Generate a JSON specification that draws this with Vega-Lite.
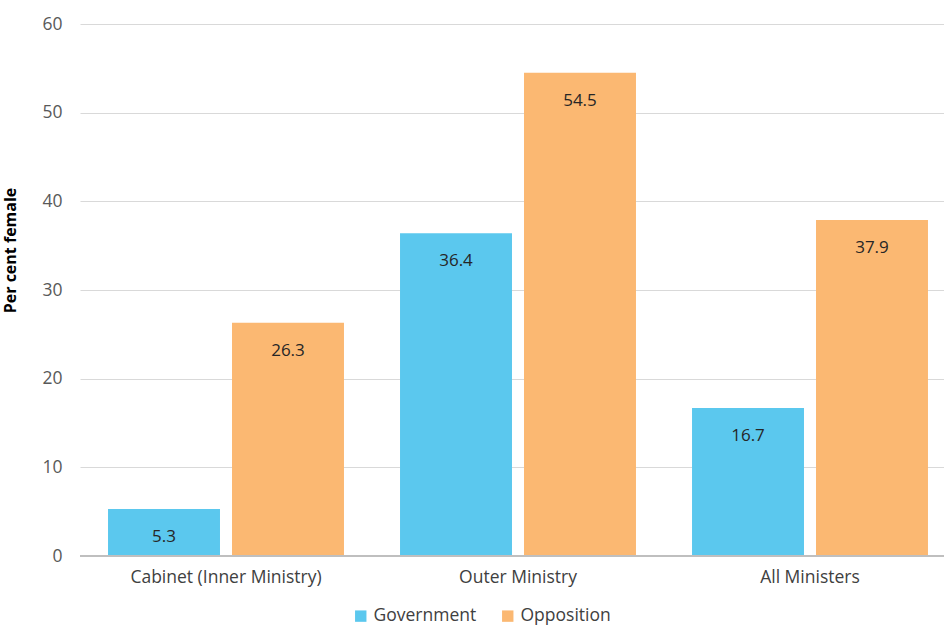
{
  "$schema": "https://vega.github.io/schema/vega-lite/v6.json",
  "width": 864,
  "height": 532,
  "autosize": {"type": "none"},
  "padding": {"left": 80, "top": 24, "right": 0, "bottom": 72},
  "background": "white",
  "config": {
    "view": {"stroke": null},
    "font": "Open Sans",
    "axis": {"labelFont": "Open Sans", "titleFont": "Open Sans"},
    "legend": {"labelFont": "Open Sans"}
  },
  "data": {
    "values": [
      {"category": "Cabinet (Inner Ministry)", "group": "Government", "value": 5.3},
      {"category": "Cabinet (Inner Ministry)", "group": "Opposition", "value": 26.3},
      {"category": "Outer Ministry", "group": "Government", "value": 36.4},
      {"category": "Outer Ministry", "group": "Opposition", "value": 54.5},
      {"category": "All Ministers", "group": "Government", "value": 16.7},
      {"category": "All Ministers", "group": "Opposition", "value": 37.9}
    ]
  },
  "encoding": {
    "x": {
      "field": "category",
      "type": "nominal",
      "sort": ["Cabinet (Inner Ministry)", "Outer Ministry", "All Ministers"],
      "scale": {"range": [0, 876], "paddingInner": 0, "paddingOuter": 0},
      "axis": {
        "title": null,
        "labelAngle": 0,
        "labelFontSize": 17.5,
        "labelColor": "#404040",
        "labelPadding": 12,
        "labelLimit": 400,
        "ticks": false,
        "domain": false,
        "grid": false
      }
    },
    "xOffset": {
      "field": "group",
      "type": "nominal",
      "scale": {"paddingInner": 0.097, "paddingOuter": 0.226}
    },
    "y": {
      "field": "value",
      "type": "quantitative",
      "scale": {"domain": [0, 60], "nice": false},
      "axis": {
        "title": "Per cent female",
        "titleFontSize": 16,
        "titleFontWeight": "bold",
        "titleColor": "#000000",
        "titleY": 226,
        "titleX": -62,
        "values": [0, 10, 20, 30, 40, 50, 60],
        "labelFontSize": 17.5,
        "labelColor": "#595959",
        "labelPadding": 18,
        "ticks": false,
        "domain": false,
        "gridColor": "#d9d9d9",
        "gridWidth": 1.2
      }
    }
  },
  "layer": [
    {
      "mark": {"type": "bar"},
      "encoding": {
        "color": {
          "field": "group",
          "type": "nominal",
          "scale": {"domain": ["Government", "Opposition"], "range": ["#5bc8ee", "#fbb872"]},
          "legend": {
            "title": null,
            "orient": "none",
            "direction": "horizontal",
            "legendX": 272,
            "legendY": 583,
            "symbolType": "square",
            "symbolSize": 130,
            "symbolStrokeWidth": 0,
            "labelFontSize": 17.5,
            "labelColor": "#404040",
            "labelOffset": 4,
            "columnPadding": 22
          }
        }
      }
    },
    {
      "mark": {"type": "text", "baseline": "middle", "dy": 28, "fontSize": 17, "color": "#262626"},
      "encoding": {
        "text": {"field": "value", "type": "quantitative", "format": ".1f"}
      }
    },
    {
      "mark": {"type": "rule", "color": "#bfbfbf", "strokeWidth": 1.5},
      "encoding": {"y": {"datum": 0}, "x": null, "xOffset": null}
    }
  ]
}
